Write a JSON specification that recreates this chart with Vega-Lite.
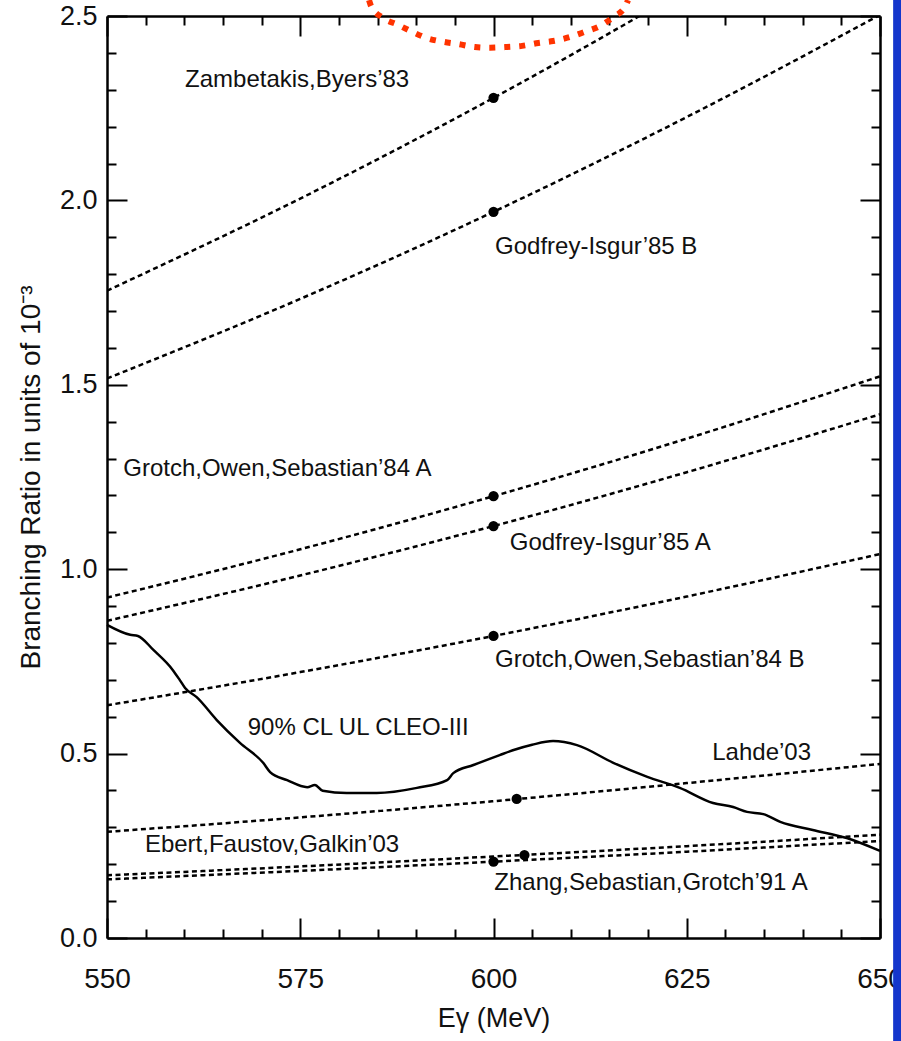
{
  "$schema": "https://vega.github.io/schema/vega-lite/v6.json",
  "width": 773,
  "height": 922,
  "autosize": {"type": "none"},
  "padding": {"left": 107, "top": 16, "right": 21, "bottom": 103},
  "background": "white",
  "config": {
    "view": {"stroke": null},
    "axis": {
      "grid": false,
      "labelFlush": false,
      "labelOverlap": false,
      "domainColor": "black",
      "tickColor": "black",
      "labelColor": "#111",
      "titleColor": "#111",
      "labelFont": "Liberation Sans",
      "titleFont": "Liberation Sans",
      "domainWidth": 2.5,
      "tickWidth": 2,
      "titleFontWeight": "normal"
    }
  },
  "datasets": {
    "models": [
      {"model": "Zambetakis", "E": 550, "BR": 1.755},
      {"model": "Zambetakis", "E": 575, "BR": 2.005},
      {"model": "Zambetakis", "E": 600, "BR": 2.278},
      {"model": "Zambetakis", "E": 625, "BR": 2.575},
      {"model": "Zambetakis", "E": 650, "BR": 2.896},
      {"model": "GI B", "E": 550, "BR": 1.517},
      {"model": "GI B", "E": 575, "BR": 1.733},
      {"model": "GI B", "E": 600, "BR": 1.969},
      {"model": "GI B", "E": 625, "BR": 2.226},
      {"model": "GI B", "E": 650, "BR": 2.503},
      {"model": "GOS A", "E": 550, "BR": 0.923},
      {"model": "GOS A", "E": 575, "BR": 1.054},
      {"model": "GOS A", "E": 600, "BR": 1.198},
      {"model": "GOS A", "E": 625, "BR": 1.354},
      {"model": "GOS A", "E": 650, "BR": 1.523},
      {"model": "GI A", "E": 550, "BR": 0.860},
      {"model": "GI A", "E": 575, "BR": 0.983},
      {"model": "GI A", "E": 600, "BR": 1.117},
      {"model": "GI A", "E": 625, "BR": 1.263},
      {"model": "GI A", "E": 650, "BR": 1.420},
      {"model": "GOS B", "E": 550, "BR": 0.631},
      {"model": "GOS B", "E": 575, "BR": 0.721},
      {"model": "GOS B", "E": 600, "BR": 0.819},
      {"model": "GOS B", "E": 625, "BR": 0.926},
      {"model": "GOS B", "E": 650, "BR": 1.041},
      {"model": "Lahde", "E": 550, "BR": 0.288},
      {"model": "Lahde", "E": 575, "BR": 0.327},
      {"model": "Lahde", "E": 600, "BR": 0.371},
      {"model": "Lahde", "E": 625, "BR": 0.420},
      {"model": "Lahde", "E": 650, "BR": 0.472},
      {"model": "Zhang", "E": 550, "BR": 0.170},
      {"model": "Zhang", "E": 575, "BR": 0.194},
      {"model": "Zhang", "E": 600, "BR": 0.221},
      {"model": "Zhang", "E": 625, "BR": 0.249},
      {"model": "Zhang", "E": 650, "BR": 0.280},
      {"model": "Ebert", "E": 550, "BR": 0.159},
      {"model": "Ebert", "E": 575, "BR": 0.182},
      {"model": "Ebert", "E": 600, "BR": 0.207},
      {"model": "Ebert", "E": 625, "BR": 0.234},
      {"model": "Ebert", "E": 650, "BR": 0.263}
    ],
    "dots": [
      {"model": "Zambetakis", "E": 600, "BR": 2.278},
      {"model": "GI B", "E": 600, "BR": 1.969},
      {"model": "GOS A", "E": 600, "BR": 1.198},
      {"model": "GI A", "E": 600, "BR": 1.117},
      {"model": "GOS B", "E": 600, "BR": 0.819},
      {"model": "Lahde", "E": 603, "BR": 0.377},
      {"model": "Zhang", "E": 604, "BR": 0.225},
      {"model": "Ebert", "E": 600, "BR": 0.207}
    ],
    "cleo": [
      {"E": 550.0, "BR": 0.849},
      {"E": 553.0, "BR": 0.822},
      {"E": 554.0, "BR": 0.819},
      {"E": 556.0, "BR": 0.781},
      {"E": 558.5, "BR": 0.727},
      {"E": 559.4, "BR": 0.700},
      {"E": 560.1, "BR": 0.678},
      {"E": 561.6, "BR": 0.653},
      {"E": 564.2, "BR": 0.591},
      {"E": 567.2, "BR": 0.529},
      {"E": 570.2, "BR": 0.475},
      {"E": 571.1, "BR": 0.450},
      {"E": 573.3, "BR": 0.428},
      {"E": 575.9, "BR": 0.409},
      {"E": 576.9, "BR": 0.415},
      {"E": 577.9, "BR": 0.399},
      {"E": 581.0, "BR": 0.393},
      {"E": 584.9, "BR": 0.393},
      {"E": 590.1, "BR": 0.407},
      {"E": 594.0, "BR": 0.428},
      {"E": 594.8, "BR": 0.447},
      {"E": 597.4, "BR": 0.469},
      {"E": 600.8, "BR": 0.496},
      {"E": 602.5, "BR": 0.509},
      {"E": 605.0, "BR": 0.524},
      {"E": 607.7, "BR": 0.534},
      {"E": 610.8, "BR": 0.523},
      {"E": 615.5, "BR": 0.475},
      {"E": 619.9, "BR": 0.437},
      {"E": 624.1, "BR": 0.407},
      {"E": 628.4, "BR": 0.366},
      {"E": 631.0, "BR": 0.355},
      {"E": 632.8, "BR": 0.342},
      {"E": 634.9, "BR": 0.336},
      {"E": 637.1, "BR": 0.315},
      {"E": 641.3, "BR": 0.293},
      {"E": 645.7, "BR": 0.271},
      {"E": 650.0, "BR": 0.236}
    ],
    "arc": [
      {"E": 583.9, "BR": 2.543},
      {"E": 584.2, "BR": 2.525},
      {"E": 585.7, "BR": 2.495},
      {"E": 587.65, "BR": 2.476},
      {"E": 589.5, "BR": 2.457},
      {"E": 591.4, "BR": 2.440},
      {"E": 593.5, "BR": 2.430},
      {"E": 595.4, "BR": 2.424},
      {"E": 597.6, "BR": 2.416},
      {"E": 599.55, "BR": 2.414},
      {"E": 601.75, "BR": 2.416},
      {"E": 603.7, "BR": 2.419},
      {"E": 605.8, "BR": 2.427},
      {"E": 607.7, "BR": 2.432},
      {"E": 609.9, "BR": 2.443},
      {"E": 611.8, "BR": 2.457},
      {"E": 613.8, "BR": 2.473},
      {"E": 615.5, "BR": 2.497},
      {"E": 617.0, "BR": 2.524},
      {"E": 617.4, "BR": 2.543}
    ],
    "labels": [
      {"label": "Zambetakis,Byers’83", "E": 560.1, "BR": 2.326},
      {"label": "Godfrey-Isgur’85 B", "E": 600.2, "BR": 1.874},
      {"label": "Grotch,Owen,Sebastian’84 A", "E": 552.1, "BR": 1.272},
      {"label": "Godfrey-Isgur’85 A", "E": 602.1, "BR": 1.071},
      {"label": "Grotch,Owen,Sebastian’84 B", "E": 600.2, "BR": 0.754},
      {"label": "90% CL UL CLEO-III", "E": 568.2, "BR": 0.569},
      {"label": "Lahde’03", "E": 628.3, "BR": 0.502},
      {"label": "Ebert,Faustov,Galkin’03", "E": 554.9, "BR": 0.252},
      {"label": "Zhang,Sebastian,Grotch’91 A", "E": 600.1, "BR": 0.149}
    ],
    "bar": [
      {"x1": 651.7, "x2": 655, "y1": -0.4, "y2": 2.7}
    ]
  },
  "layer": [
    {
      "data": {"name": "models"},
      "mark": {"type": "line", "clip": true, "color": "black", "strokeDash": [5, 3.5], "strokeWidth": 2.5, "interpolate": "monotone"},
      "encoding": {
        "x": {"field": "E", "type": "quantitative",
          "scale": {"domain": [550, 650], "nice": false, "zero": false},
          "axis": {"orient": "bottom", "values": [550, 575, 600, 625, 650], "tickSize": -20, "labelPadding": 47, "labelFontSize": 28, "title": "Eγ (MeV)", "titleFontSize": 27, "titlePadding": 12}},
        "y": {"field": "BR", "type": "quantitative",
          "scale": {"domain": [0, 2.5], "nice": false, "zero": false},
          "axis": {"orient": "left", "values": [0, 0.5, 1, 1.5, 2, 2.5], "format": ".1f", "tickSize": -20, "labelPadding": 30, "labelFontSize": 27, "title": "Branching Ratio in units of 10⁻³", "titleFontSize": 28, "titlePadding": 14}},
        "detail": {"field": "model"}
      }
    },
    {
      "data": {"name": "dots"},
      "mark": {"type": "point", "filled": true, "color": "black", "size": 105, "opacity": 1},
      "encoding": {
        "x": {"field": "E", "type": "quantitative",
          "scale": {"domain": [550, 650], "nice": false, "zero": false},
          "axis": {"orient": "bottom", "values": [555, 560, 565, 570, 580, 585, 590, 595, 605, 610, 615, 620, 630, 635, 640, 645], "tickSize": -9, "labels": false, "domain": false, "title": null}},
        "y": {"field": "BR", "type": "quantitative",
          "scale": {"domain": [0, 2.5], "nice": false, "zero": false},
          "axis": {"orient": "left", "values": [0.1, 0.2, 0.3, 0.4, 0.6, 0.7, 0.8, 0.9, 1.1, 1.2, 1.3, 1.4, 1.6, 1.7, 1.8, 1.9, 2.1, 2.2, 2.3, 2.4], "tickSize": -9, "labels": false, "domain": false, "title": null}}
      }
    },
    {
      "data": {"name": "cleo"},
      "mark": {"type": "line", "color": "black", "strokeWidth": 2.5, "interpolate": "monotone"},
      "encoding": {
        "x": {"field": "E", "type": "quantitative",
          "scale": {"domain": [550, 650], "nice": false, "zero": false},
          "axis": {"orient": "top", "values": [550, 575, 600, 625, 650], "tickSize": -20, "labels": false, "title": null}},
        "y": {"field": "BR", "type": "quantitative",
          "scale": {"domain": [0, 2.5], "nice": false, "zero": false},
          "axis": {"orient": "right", "values": [0, 0.5, 1, 1.5, 2, 2.5], "tickSize": -20, "labels": false, "title": null}}
      }
    },
    {
      "data": {"name": "labels"},
      "mark": {"type": "text", "align": "left", "baseline": "middle", "font": "Liberation Sans", "fontSize": 24, "color": "#111"},
      "encoding": {
        "x": {"field": "E", "type": "quantitative",
          "scale": {"domain": [550, 650], "nice": false, "zero": false},
          "axis": {"orient": "top", "values": [555, 560, 565, 570, 580, 585, 590, 595, 605, 610, 615, 620, 630, 635, 640, 645], "tickSize": -9, "labels": false, "domain": false, "title": null}},
        "y": {"field": "BR", "type": "quantitative",
          "scale": {"domain": [0, 2.5], "nice": false, "zero": false},
          "axis": {"orient": "right", "values": [0.1, 0.2, 0.3, 0.4, 0.6, 0.7, 0.8, 0.9, 1.1, 1.2, 1.3, 1.4, 1.6, 1.7, 1.8, 1.9, 2.1, 2.2, 2.3, 2.4], "tickSize": -9, "labels": false, "domain": false, "title": null}},
        "text": {"field": "label"}
      }
    },
    {
      "data": {"name": "arc"},
      "mark": {"type": "line", "color": "#ff3300", "strokeWidth": 6, "strokeDash": [6, 9], "strokeCap": "butt", "interpolate": "monotone"},
      "encoding": {
        "x": {"field": "E", "type": "quantitative", "scale": {"domain": [550, 650], "nice": false, "zero": false}, "axis": null},
        "y": {"field": "BR", "type": "quantitative", "scale": {"domain": [0, 2.5], "nice": false, "zero": false}, "axis": null}
      }
    },
    {
      "data": {"name": "bar"},
      "mark": {"type": "rect", "color": "#1436cc"},
      "encoding": {
        "x": {"field": "x1", "type": "quantitative", "scale": {"domain": [550, 650], "nice": false, "zero": false}, "axis": null},
        "x2": {"field": "x2"},
        "y": {"field": "y1", "type": "quantitative", "scale": {"domain": [0, 2.5], "nice": false, "zero": false}, "axis": null},
        "y2": {"field": "y2"}
      }
    }
  ],
  "resolve": {"axis": {"x": "independent", "y": "independent"}}
}
